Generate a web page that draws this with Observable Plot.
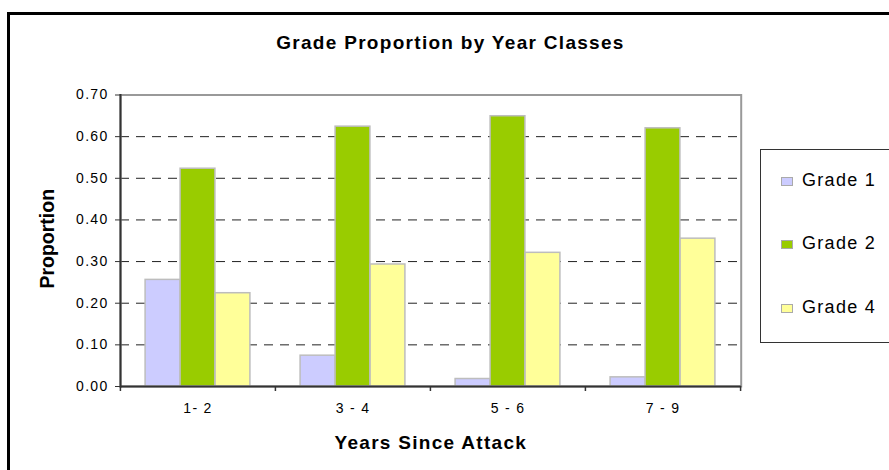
<!DOCTYPE html>
<html>
<head>
<meta charset="utf-8">
<script src="https://cdn.jsdelivr.net/npm/d3@7"></script>
<script src="https://cdn.jsdelivr.net/npm/@observablehq/plot@0.6"></script>
<style>
  body { margin: 0; background: #fff; overflow: hidden; font-family: "Liberation Sans", Arial, sans-serif; }
  #wrap { position: relative; width: 889px; height: 470px; overflow: hidden; background: #fff; }
  #border { position: absolute; left: 7px; top: 12px; width: 1000px; height: 1000px; border-left: 3px solid #000; border-top: 3px solid #000; }
  #chart { position: absolute; left: 0; top: 0; }
  #chart svg text { letter-spacing: 1.3px; }
  #chart svg text[transform*="rotate"] { letter-spacing: 0; }
  #legend { position: absolute; left: 760px; top: 149px; width: 200px; height: 194px; box-sizing: border-box; border: 1px solid #333; background: #fff; }
  .item { position: absolute; left: 0; height: 18px; line-height: 18px; font-size: 18px; letter-spacing: 1.3px; color: #000; white-space: nowrap; }
  .sw { position: absolute; left: 20px; top: 6px; width: 12px; height: 9px; box-sizing: border-box; border: 1px solid #aaa; }
  .lab { position: absolute; left: 41px; top: 0; }
</style>
</head>
<body>
<div id="wrap">
  <div id="border"></div>
  <div id="chart"></div>
  <div id="legend"></div>
</div>
<script>
// ---- data ----
const categories = ["1- 2", "3 - 4", "5 - 6", "7 - 9"];
const grades = ["Grade 1", "Grade 2", "Grade 4"];
const grade1 = [0.256, 0.074, 0.018, 0.022];
const grade2 = [0.523, 0.624, 0.649, 0.620];
const grade4 = [0.224, 0.293, 0.321, 0.355];
const gradeColors = ["#CCCCFF", "#99CC00", "#FFFF99"];
const yTicks = [0, 0.1, 0.2, 0.3, 0.4, 0.5, 0.6, 0.7];
const gridValues = [0.1, 0.2, 0.3, 0.4, 0.5, 0.6];
const chartTitle = "Grade Proportion by Year Classes";
const xTitle = "Years Since Attack";
const yTitle = "Proportion";

// ---- layout ----
const W = 889, H = 470;
const mL = 120, mR = 148.3, mT = 94.5, mB = 84;
const bw = (W - mL - mR) / categories.length;
const barW = 35;
const pad = (bw - barW * grades.length) / 2;

const series = [grade1, grade2, grade4];
const rows = categories.flatMap((c, i) => grades.map((g, k) => ({cat: c, grade: g, value: series[k][i]})));

const tickStyle = {stroke: "#333", strokeWidth: 1.5};
const titleStyle = {fontSize: 19, fontWeight: "bold", fill: "#000", lineAnchor: "middle", textAnchor: "middle"};

const chart = Plot.plot({
  width: W, height: H,
  marginLeft: mL, marginRight: mR, marginTop: mT, marginBottom: mB,
  style: {fontFamily: "'Liberation Sans', Arial, sans-serif", fontSize: "14px", color: "#000", background: "transparent"},
  x: {type: "band", domain: categories, padding: 0},
  y: {domain: [0, 0.7]},
  color: {domain: grades, range: gradeColors},
  marks: [
    Plot.ruleY(gridValues, {stroke: "#222", strokeWidth: 1, strokeDasharray: "9,7"}),
    Plot.frame({stroke: "#999", strokeWidth: 2}),
    ...grades.map((g, k) => Plot.barY(rows.filter(d => d.grade === g), {
      x: "cat", y: "value", fill: "grade", stroke: "#bdbdbd", strokeWidth: 1.5,
      insetLeft: pad + k * barW, insetRight: bw - pad - (k + 1) * barW
    })),
    Plot.ruleY([0], {stroke: "#333", strokeWidth: 2}),
    Plot.frame({anchor: "left", stroke: "#333", strokeWidth: 2}),
    Plot.ruleX(categories, {x: d => d, dx: -bw / 2, y1: 0, y2: 0, insetBottom: -5, ...tickStyle}),
    Plot.ruleX(categories.slice(-1), {x: d => d, dx: bw / 2, y1: 0, y2: 0, insetBottom: -5, ...tickStyle}),
    Plot.axisY({ticks: yTicks, tickFormat: d3.format(".2f"), tickSize: 5, tickPadding: 7, stroke: "#333", fill: "#000", fontSize: 14, label: null}),
    Plot.axisX({tickSize: 0, tickPadding: 17, fill: "#000", fontSize: 14, label: null}),
    Plot.text([yTitle], {frameAnchor: "left", rotate: -90, dx: -73, dy: -2, ...titleStyle, fontSize: 19.5}),
    Plot.text([xTitle], {frameAnchor: "bottom", dy: 56, ...titleStyle}),
    Plot.text([chartTitle], {frameAnchor: "top", dx: 19.6, dy: -51.6, ...titleStyle})
  ]
});
document.getElementById("chart").appendChild(chart);

// ---- legend ----
const legend = document.getElementById("legend");
grades.forEach((g, k) => {
  const item = document.createElement("div");
  item.className = "item";
  item.style.top = (20.8 + k * 63.5) + "px";
  const sw = document.createElement("div");
  sw.className = "sw";
  sw.style.background = gradeColors[k];
  const lab = document.createElement("div");
  lab.className = "lab";
  lab.textContent = g;
  item.appendChild(sw);
  item.appendChild(lab);
  legend.appendChild(item);
});
</script>
</body>
</html>
